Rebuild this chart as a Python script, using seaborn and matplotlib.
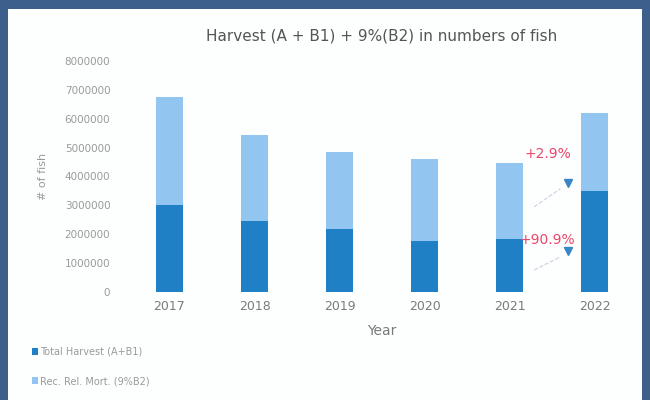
import numpy as np
import pandas as pd
import seaborn as sns
import matplotlib.pyplot as plt
from matplotlib.patches import Rectangle

# values (numbers of fish)
years = ["2017", "2018", "2019", "2020", "2021", "2022"]
total_harvest = [3010000, 2460000, 2180000, 1760000, 1830000, 3490000]
rec_rel_mort = [3740000, 2970000, 2660000, 2840000, 2630000, 2710000]
yticks = [0, 1000000, 2000000, 3000000, 4000000, 5000000, 6000000, 7000000, 8000000]
change_labels = ["+2.9%", "+90.9%"]

dark_blue = "#1f80c6"
light_blue = "#92c5ef"
grey = "#7a7a7a"

df = pd.DataFrame({"Year": years,
                   "Total Harvest (A+B1)": total_harvest,
                   "Rec. Rel. Mort. (9%B2)": rec_rel_mort})
df["Total"] = df["Total Harvest (A+B1)"] + df["Rec. Rel. Mort. (9%B2)"]

sns.set_style("white")
fig = plt.figure(figsize=(6.5, 4), dpi=100, facecolor="#3d5f8c")
fig.add_artist(Rectangle((8 / 650, 0), 634 / 650, 391 / 400, transform=fig.transFigure,
                         facecolor="#fdfefe", edgecolor="none", zorder=0))

ax = fig.add_axes([127 / 650, 108 / 400, 510 / 650, 231 / 400])
ax.set_facecolor("#fdfefe")

sns.barplot(data=df, x="Year", y="Total", color=light_blue, width=0.32,
            saturation=1, ax=ax, label="Rec. Rel. Mort. (9%B2)", linewidth=0,
            edgecolor="none")
sns.barplot(data=df, x="Year", y="Total Harvest (A+B1)", color=dark_blue, width=0.32,
            saturation=1, ax=ax, label="Total Harvest (A+B1)", linewidth=0,
            edgecolor="none")

ax.set_xlim(-0.5, 5.5)
ax.set_ylim(0, 8000000)
ax.set_yticks(yticks)
ax.set_yticklabels([str(v) for v in yticks])
ax.tick_params(axis="y", labelsize=7.5, labelcolor="#9a9a9a", length=0, pad=12)
ax.tick_params(axis="x", labelsize=9, labelcolor=grey, length=0, pad=6)
ax.set_xlabel("Year", fontsize=10, color=grey, labelpad=8)
ax.set_ylabel("# of fish", fontsize=8, color="#9a9a9a", labelpad=12)
sns.despine(ax=ax, left=True, bottom=True)
ax.set_title("Harvest (A + B1) + 9%(B2) in numbers of fish", fontsize=11,
             color="#555555", pad=15)

# change 2021 -> 2022 annotations
for lab, y_txt, y_arrow, y_line in zip(change_labels, [4780000, 1800000],
                                       [3780000, 1420000], [2950000, 760000]):
    ax.text(4.45, y_txt, lab, color="#e8476a", fontsize=10, ha="center", va="center")
    ax.plot([4.29, 4.6], [y_line, y_arrow - 200000], color="#c8d3e0", lw=0.8, ls="--")
    ax.plot(4.69, y_arrow, marker="v", color="#3a86c8", markersize=5.5, ls="none")

handles, labels = ax.get_legend_handles_labels()
fig.legend(handles[::-1], labels[::-1], loc="upper left",
           bbox_to_anchor=(0.035, 0.155), frameon=False, fontsize=7,
           labelcolor="#9a9a9a", handlelength=0.7, handleheight=0.7,
           handletextpad=0.2, labelspacing=2.0)
if ax.get_legend():
    ax.get_legend().remove()

fig.savefig("out.png", dpi=100, facecolor=fig.get_facecolor())
